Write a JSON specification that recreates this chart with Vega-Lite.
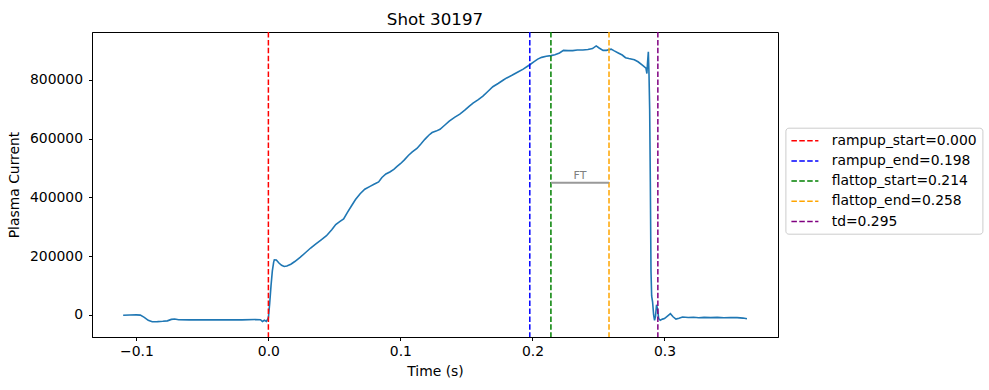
{
  "$schema": "https://vega.github.io/schema/vega-lite/v6.json",
  "width": 686,
  "height": 305,
  "autosize": {"type": "none"},
  "padding": {"left": 92, "top": 32, "right": 211, "bottom": 53},
  "background": "white",
  "title": {"text": "Shot 30197", "fontSize": 16.7, "fontWeight": "normal", "font": "DejaVu Sans", "color": "black", "baseline": "bottom", "offset": 5, "dy": 19, "anchor": "middle", "frame": "group"},
  "config": {
    "font": "DejaVu Sans",
    "view": {"stroke": "black", "strokeWidth": 1},
    "axis": {"grid": false, "domainColor": "black", "domainWidth": 1, "tickColor": "black", "tickSize": 3.5, "tickWidth": 1, "labelColor": "black", "labelFontSize": 13.9, "labelFont": "DejaVu Sans", "titleFont": "DejaVu Sans", "titleFontSize": 13.9, "titleFontWeight": "normal", "titleColor": "black", "labelPadding": 3.5}
  },
  "datasets": {
    "curve": [
      {"t": -0.110, "ip": -1000}, {"t": -0.105, "ip": 0}, {"t": -0.100, "ip": 500}, {"t": -0.097, "ip": -500},
      {"t": -0.094, "ip": -8000}, {"t": -0.091, "ip": -18000}, {"t": -0.088, "ip": -23000}, {"t": -0.084, "ip": -22500},
      {"t": -0.080, "ip": -21500}, {"t": -0.0765, "ip": -20000}, {"t": -0.0735, "ip": -15000}, {"t": -0.071, "ip": -13500},
      {"t": -0.068, "ip": -16000}, {"t": -0.060, "ip": -16500}, {"t": -0.050, "ip": -16000}, {"t": -0.040, "ip": -16500},
      {"t": -0.030, "ip": -16000}, {"t": -0.020, "ip": -16500}, {"t": -0.010, "ip": -15500}, {"t": -0.006, "ip": -16000},
      {"t": -0.0045, "ip": -22000}, {"t": -0.003, "ip": -18000}, {"t": -0.0015, "ip": -22000}, {"t": 0.000, "ip": -10000},
      {"t": 0.001, "ip": 40000}, {"t": 0.002, "ip": 100000}, {"t": 0.003, "ip": 150000}, {"t": 0.004, "ip": 180000},
      {"t": 0.0045, "ip": 188000}, {"t": 0.006, "ip": 187000}, {"t": 0.008, "ip": 177000}, {"t": 0.010, "ip": 169000},
      {"t": 0.012, "ip": 165000}, {"t": 0.014, "ip": 167000}, {"t": 0.017, "ip": 173000}, {"t": 0.020, "ip": 182000},
      {"t": 0.024, "ip": 196000}, {"t": 0.028, "ip": 212000}, {"t": 0.032, "ip": 228000}, {"t": 0.036, "ip": 242000},
      {"t": 0.040, "ip": 256000}, {"t": 0.044, "ip": 270000}, {"t": 0.048, "ip": 290000}, {"t": 0.051, "ip": 308000},
      {"t": 0.054, "ip": 318000}, {"t": 0.057, "ip": 327000}, {"t": 0.060, "ip": 350000}, {"t": 0.063, "ip": 372000},
      {"t": 0.066, "ip": 393000}, {"t": 0.0695, "ip": 413000}, {"t": 0.073, "ip": 428000}, {"t": 0.077, "ip": 438000},
      {"t": 0.080, "ip": 445000}, {"t": 0.0835, "ip": 453000}, {"t": 0.086, "ip": 468000}, {"t": 0.089, "ip": 480000},
      {"t": 0.092, "ip": 487000}, {"t": 0.095, "ip": 496000}, {"t": 0.0975, "ip": 506000}, {"t": 0.100, "ip": 515000},
      {"t": 0.103, "ip": 528000}, {"t": 0.106, "ip": 543000}, {"t": 0.109, "ip": 555000}, {"t": 0.1125, "ip": 567000},
      {"t": 0.1155, "ip": 582000}, {"t": 0.1185, "ip": 598000}, {"t": 0.1215, "ip": 612000}, {"t": 0.124, "ip": 621000},
      {"t": 0.127, "ip": 626000}, {"t": 0.130, "ip": 632000}, {"t": 0.1335, "ip": 646000}, {"t": 0.137, "ip": 660000},
      {"t": 0.141, "ip": 673000}, {"t": 0.145, "ip": 684000}, {"t": 0.149, "ip": 698000}, {"t": 0.152, "ip": 710000},
      {"t": 0.155, "ip": 721000}, {"t": 0.159, "ip": 733000}, {"t": 0.1625, "ip": 745000}, {"t": 0.166, "ip": 760000},
      {"t": 0.170, "ip": 777000}, {"t": 0.174, "ip": 788000}, {"t": 0.178, "ip": 800000}, {"t": 0.1805, "ip": 807000},
      {"t": 0.1845, "ip": 816000}, {"t": 0.189, "ip": 827000}, {"t": 0.193, "ip": 837000}, {"t": 0.196, "ip": 846000},
      {"t": 0.198, "ip": 852000}, {"t": 0.201, "ip": 862000}, {"t": 0.204, "ip": 871000}, {"t": 0.207, "ip": 877000},
      {"t": 0.2105, "ip": 881000}, {"t": 0.214, "ip": 883000}, {"t": 0.217, "ip": 886000}, {"t": 0.2205, "ip": 892000},
      {"t": 0.2235, "ip": 901000}, {"t": 0.227, "ip": 900000}, {"t": 0.2305, "ip": 900000}, {"t": 0.234, "ip": 902000},
      {"t": 0.2382, "ip": 902000}, {"t": 0.242, "ip": 904000}, {"t": 0.2455, "ip": 907000}, {"t": 0.2483, "ip": 916000},
      {"t": 0.2505, "ip": 909000}, {"t": 0.2535, "ip": 901000}, {"t": 0.256, "ip": 901000}, {"t": 0.2596, "ip": 905000},
      {"t": 0.262, "ip": 899000}, {"t": 0.265, "ip": 892000}, {"t": 0.268, "ip": 885000}, {"t": 0.2705, "ip": 876000},
      {"t": 0.273, "ip": 873000}, {"t": 0.2772, "ip": 869000}, {"t": 0.280, "ip": 862000}, {"t": 0.2835, "ip": 850000},
      {"t": 0.286, "ip": 840000}, {"t": 0.2867, "ip": 822000}, {"t": 0.2872, "ip": 860000}, {"t": 0.2878, "ip": 896000},
      {"t": 0.2883, "ip": 818000}, {"t": 0.2888, "ip": 700000}, {"t": 0.2893, "ip": 450000}, {"t": 0.2898, "ip": 150000},
      {"t": 0.2903, "ip": 65000}, {"t": 0.291, "ip": 45000}, {"t": 0.2918, "ip": 0}, {"t": 0.2925, "ip": -18000},
      {"t": 0.2932, "ip": -5000}, {"t": 0.294, "ip": 35000}, {"t": 0.2948, "ip": 20000}, {"t": 0.2956, "ip": -12000},
      {"t": 0.2968, "ip": -18000}, {"t": 0.2985, "ip": -14000}, {"t": 0.300, "ip": -12000}, {"t": 0.3025, "ip": -3000},
      {"t": 0.3045, "ip": 4500}, {"t": 0.3065, "ip": -6000}, {"t": 0.3087, "ip": -14000}, {"t": 0.311, "ip": -11000},
      {"t": 0.3137, "ip": -7000}, {"t": 0.318, "ip": -8500}, {"t": 0.322, "ip": -7500}, {"t": 0.326, "ip": -9500},
      {"t": 0.330, "ip": -8000}, {"t": 0.335, "ip": -9000}, {"t": 0.340, "ip": -8000}, {"t": 0.345, "ip": -9500},
      {"t": 0.350, "ip": -8500}, {"t": 0.355, "ip": -9000}, {"t": 0.3595, "ip": -10500}, {"t": 0.3625, "ip": -13000}
    ],
    "events": [
      {"t": 0.0, "label": "rampup_start=0.000"},
      {"t": 0.198, "label": "rampup_end=0.198"},
      {"t": 0.214, "label": "flattop_start=0.214"},
      {"t": 0.258, "label": "flattop_end=0.258"},
      {"t": 0.295, "label": "td=0.295"}
    ],
    "ft": [
      {"t1": 0.214, "t2": 0.258, "tm": 0.236, "ip": 450000, "label": "FT"}
    ]
  },
  "layer": [
    {
      "data": {"name": "curve"},
      "mark": {"type": "line", "color": "#1f77b4", "strokeWidth": 1.6},
      "encoding": {
        "x": {"field": "t", "type": "quantitative", "scale": {"domain": [-0.1336, 0.386], "nice": false, "zero": false},
              "axis": {"title": "Time (s)", "values": [-0.1, 0, 0.1, 0.2, 0.3], "format": ".1f", "titlePadding": 7}},
        "y": {"field": "ip", "type": "quantitative", "scale": {"domain": [-74900, 963400], "nice": false, "zero": false},
              "axis": {"title": "Plasma Current", "values": [0, 200000, 400000, 600000, 800000], "format": "d", "titlePadding": 8, "labelPadding": 6}}
      }
    },
    {
      "data": {"name": "events"},
      "mark": {"type": "rule", "strokeWidth": 1.5, "strokeDash": [5.5, 2.4]},
      "encoding": {
        "x": {"field": "t", "type": "quantitative"},
        "color": {"field": "label", "type": "nominal",
          "scale": {"domain": ["rampup_start=0.000", "rampup_end=0.198", "flattop_start=0.214", "flattop_end=0.258", "td=0.295"],
                    "range": ["#ff0000", "#0000ff", "#008000", "#ffa500", "#800080"]},
          "legend": {"title": null, "orient": "none", "legendX": 693.4, "legendY": 95.7,
            "symbolType": "M-1,0H2.86", "symbolSize": 196, "symbolStrokeWidth": 1.5, "symbolDash": [5.5, 2.4],
            "labelFontSize": 13.9, "labelFont": "DejaVu Sans", "labelColor": "black", "labelOffset": 25.3,
            "rowPadding": 5.2, "padding": 5, "strokeColor": "#cccccc", "fillColor": "white", "cornerRadius": 3, "labelLimit": 300}}
      }
    },
    {
      "data": {"name": "ft"},
      "mark": {"type": "rule", "color": "#999999", "strokeWidth": 2},
      "encoding": {
        "x": {"field": "t1", "type": "quantitative"},
        "x2": {"field": "t2"},
        "y": {"field": "ip", "type": "quantitative"}
      }
    },
    {
      "data": {"name": "ft"},
      "mark": {"type": "text", "color": "#808080", "fill": "#808080", "fontSize": 11, "baseline": "alphabetic", "dy": -4},
      "encoding": {
        "x": {"field": "tm", "type": "quantitative"},
        "y": {"field": "ip", "type": "quantitative"},
        "text": {"field": "label"}
      }
    }
  ]
}
